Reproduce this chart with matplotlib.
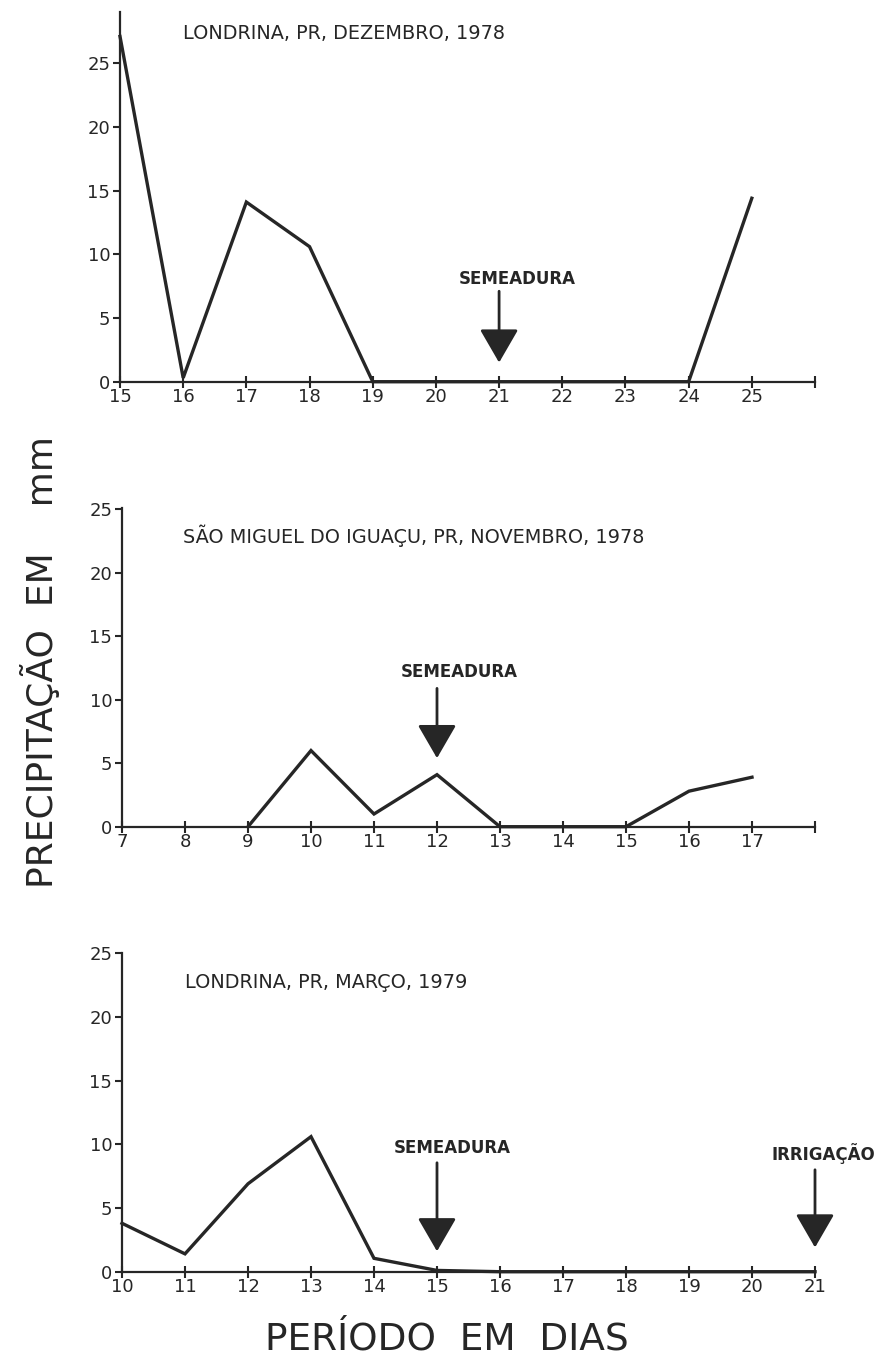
import numpy as np
import matplotlib
matplotlib.use("Agg")
import matplotlib.pyplot as plt

# ---- data ----
days_dez = [15, 16, 17, 18, 19, 20, 21, 22, 23, 24, 25]
prec_dez = [27.1, 0.3, 14.1, 10.6, 0.0, 0.0, 0.0, 0.0, 0.0, 0.0, 14.4]

days_nov = [7, 8, 9, 10, 11, 12, 13, 14, 15, 16, 17]
prec_nov = [np.nan, np.nan, 0.0, 6.0, 1.0, 4.1, 0.0, 0.0, 0.0, 2.8, 3.9]

days_mar = [10, 11, 12, 13, 14, 15, 16, 17, 18, 19, 20, 21]
prec_mar = [3.8, 1.4, 6.9, 10.6, 1.05, 0.1, 0.0, 0.0, 0.0, 0.0, 0.0, 0.0]

titles = ["LONDRINA, PR, DEZEMBRO, 1978",
          "SÃO MIGUEL DO IGUAÇU, PR, NOVEMBRO, 1978",
          "LONDRINA, PR, MARÇO, 1979"]
yticks = [0, 5, 10, 15, 20, 25]

INK = "#262626"
plt.rcParams['font.family'] = ['DejaVu Sans']

fig = plt.figure(figsize=(8.77, 13.72), dpi=100)

W = 877.0
H = 1372.0

def make_ax(left_px, right_px, bottom_px, top_px):
    return fig.add_axes([left_px / W, 1 - bottom_px / H,
                         (right_px - left_px) / W, (bottom_px - top_px) / H])

ax1 = make_ax(120, 815, 381.7, 12)
ax2 = make_ax(122, 815, 826.7, 508)
ax3 = make_ax(122, 815, 1271.7, 953)

panels = [
    (ax1, days_dez, prec_dez, (15, 26), (0, (381.7 - 12) / 12.74), list(range(15, 27)), [str(d) for d in range(15, 26)] + [""]),
    (ax2, days_nov, prec_nov, (7, 18), (0, (826.7 - 508) / 12.69), list(range(7, 19)), [str(d) for d in range(7, 18)] + [""]),
    (ax3, days_mar, prec_mar, (10, 21), (0, (1271.7 - 953) / 12.74), list(range(10, 22)), [str(d) for d in range(10, 22)]),
]

for ax, x, y, xl, yl, xt, xtl in panels:
    ax.plot(x, y, color=INK, lw=2.4, solid_joinstyle='miter', clip_on=False, zorder=3)
    ax.set_xlim(*xl)
    ax.set_ylim(*yl)
    ax.set_xticks(xt)
    ax.set_xticklabels(xtl)
    ax.set_yticks(yticks)
    for s in ['top', 'right']:
        ax.spines[s].set_visible(False)
    for s in ['left', 'bottom']:
        ax.spines[s].set_color(INK)
        ax.spines[s].set_linewidth(1.6)
    ax.tick_params(axis='x', direction='inout', length=9, width=1.5, colors=INK,
                   labelsize=13, pad=0)
    ax.tick_params(axis='y', direction='out', length=5, width=1.5, colors=INK,
                   labelsize=13, pad=2)
    ax.patch.set_alpha(0)

# panel titles
ax1.text(16.0, 27.3, titles[0], fontsize=13.9, color=INK, va='center', ha='left')
ax2.text(7.97, 22.9, titles[1], fontsize=13.9, color=INK, va='center', ha='left')
ax3.text(11.0, 22.7, titles[2], fontsize=13.9, color=INK, va='center', ha='left')

def marker(ax, x, label, text_x, text_y, top, tip):
    ax.annotate('', xy=(x, tip), xytext=(x, top),
                arrowprops=dict(arrowstyle='-|>,head_length=0.95,head_width=0.55',
                                lw=2.0, color=INK, shrinkA=0, shrinkB=0,
                                mutation_scale=22),
                annotation_clip=False)
    ax.text(text_x, text_y, label, fontsize=12, fontweight='bold', color=INK,
            ha='center', va='center', clip_on=False)

marker(ax1, 21, "SEMEADURA", 21.28, 8.1, 7.1, 1.5)
marker(ax2, 12, "SEMEADURA", 12.35, 12.2, 10.9, 5.4)
marker(ax3, 15, "SEMEADURA", 15.25, 9.7, 8.55, 1.6)
marker(ax3, 21, "IRRIGAÇÃO", 21.14, 9.3, 8.0, 1.9)

fig.text(40 / W, 1 - 662 / H, "PRECIPITAÇÃO  EM    mm", rotation=90,
         fontsize=26, color=INK, ha='center', va='center')
fig.text(447 / W, 1 - 1340 / H, "PERÍODO  EM  DIAS", fontsize=27, color=INK,
         ha='center', va='center')

fig.savefig("out.png", dpi=100, facecolor='white')
